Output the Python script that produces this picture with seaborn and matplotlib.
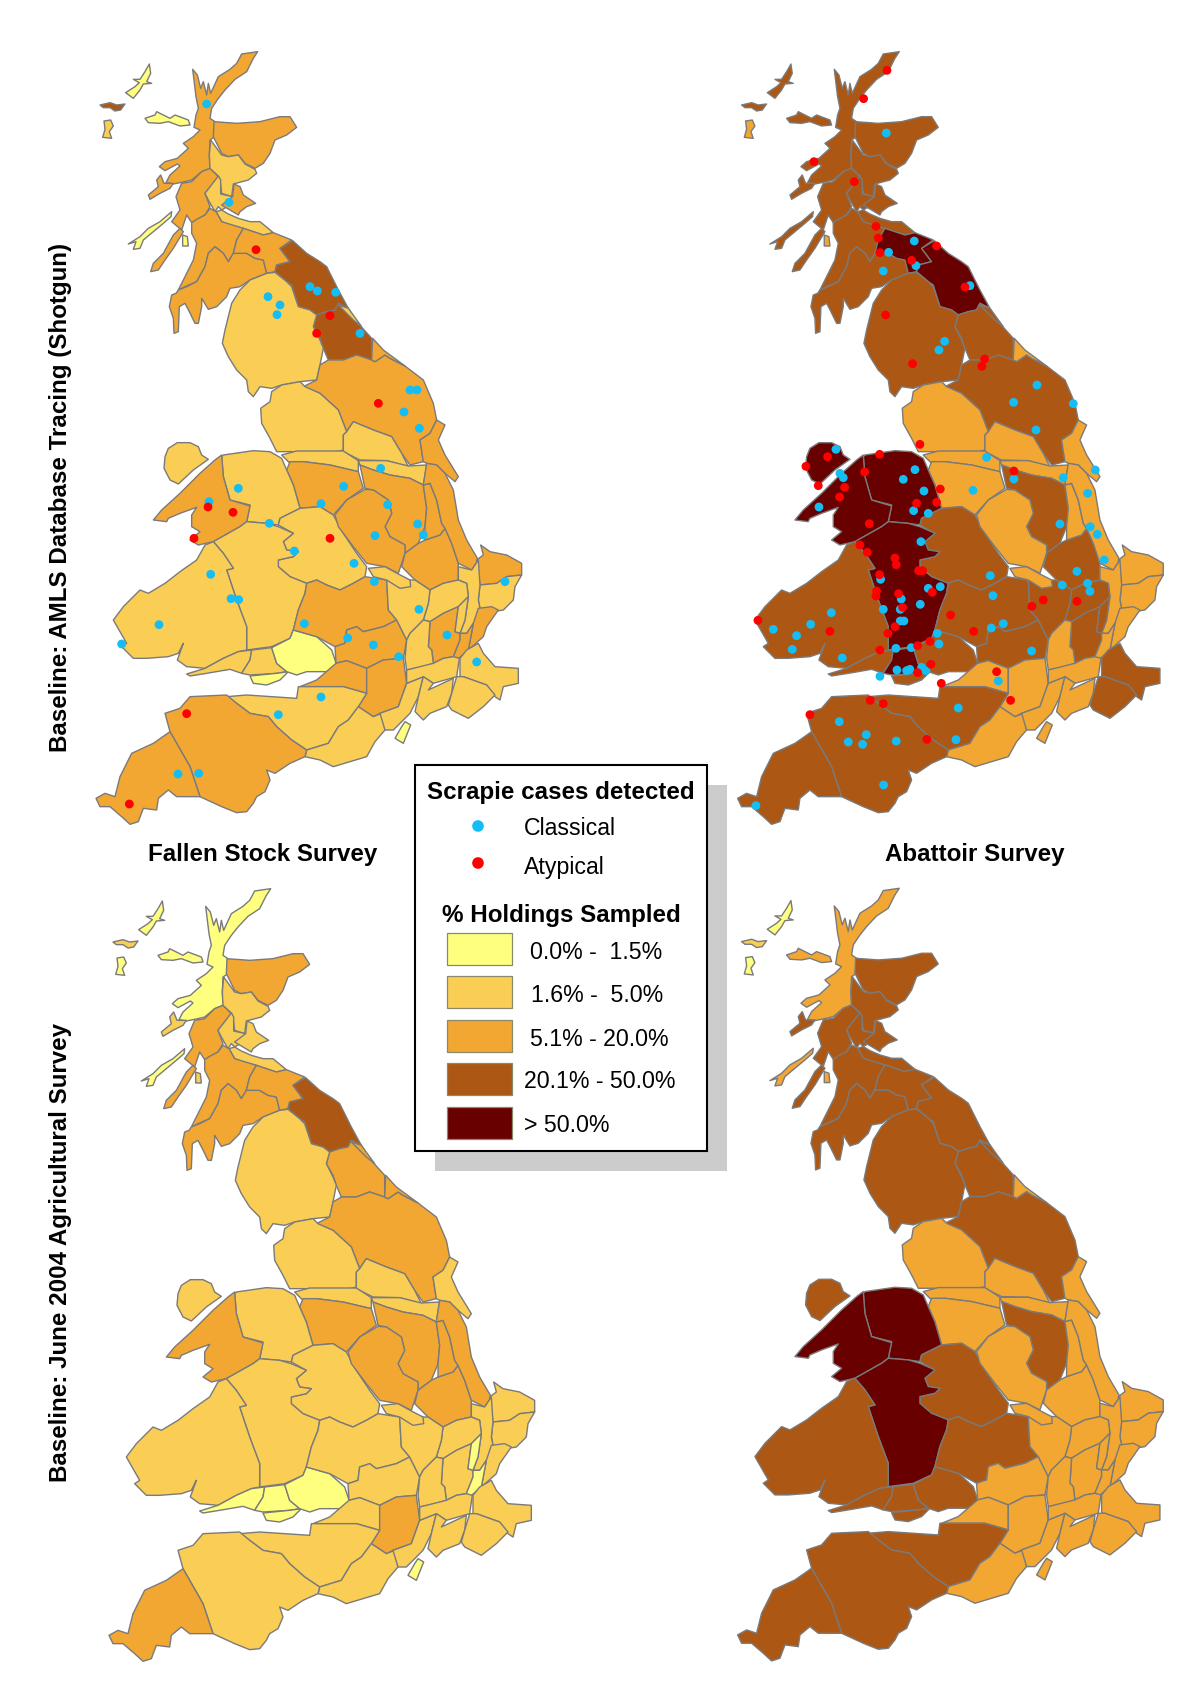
import numpy as np
import pandas as pd
import matplotlib
matplotlib.use("Agg")
import matplotlib.pyplot as plt
from matplotlib.patches import Rectangle
import seaborn as sns

LARGURA, ALTURA = 1200, 1700
SUL = 1140  # the southern outlines were read with y starting here


def sul(pontos):
    """Shift outlines read on the southern crop to the common map frame."""
    return [(x, y + SUL) for x, y in pontos]


# Legend classes
CLASS_LABELS = ["0.0% -  1.5%", "1.6% -  5.0%", "5.1% - 20.0%", "20.1% - 50.0%", "> 50.0%"]
CLASS_COLORS = ["#FFFF7F", "#FACD55", "#F2A733", "#AD5714", "#680000"]
EDGE_COLOR = "#7A7A7A"
CASE_COLORS = {"Classical": "#14BDF4", "Atypical": "#FF0000"}

# Map outlines, in map units
REGIONS = {
    "lewis": [(178, 72), (182, 100), (170, 125), (185, 130), (160, 132), (150, 150), (130, 175), (107, 158), (135, 140), (148, 128), (130, 118), (150, 118), (165, 95)],
    "uist": [(30, 195), (60, 188), (80, 195), (105, 192), (92, 210), (75, 213), (60, 203), (40, 203)],
    "barra": [(42, 243), (62, 240), (70, 258), (58, 275), (65, 295), (38, 292), (45, 268)],
    "highland": [(503, 35), (490, 55), (470, 95), (435, 118), (405, 150), (385, 175), (365, 205), (360, 235), (375, 245), (375, 290), (360, 300), (358, 345), (360, 385), (335, 395), (305, 420), (285, 425), (250, 432), (228, 428), (240, 405), (270, 378), (262, 372), (225, 392), (208, 380), (225, 365), (262, 355), (295, 325), (280, 310), (310, 290), (330, 270), (312, 262), (318, 225), (325, 205), (318, 170), (308, 88), (322, 105), (332, 145), (340, 125), (350, 165), (355, 130), (362, 160), (385, 110), (420, 88), (440, 70), (455, 42)],
    "skye": [(165, 235), (195, 225), (200, 215), (240, 235), (255, 225), (295, 240), (300, 255), (270, 258), (235, 245), (210, 250), (175, 248)],
    "mull": [(212, 405), (222, 430), (250, 430), (240, 445), (210, 460), (180, 478), (175, 465), (205, 440), (200, 420)],
    "islay": [(115, 612), (150, 590), (175, 565), (210, 545), (245, 515), (243, 530), (220, 550), (190, 575), (160, 600), (150, 625), (130, 628), (138, 605)],
    "arran": [(278, 585), (292, 590), (295, 618), (278, 618)],
    "argyll": [(360, 385), (385, 410), (345, 460), (360, 500), (345, 525), (320, 540), (305, 548), (290, 525), (275, 570), (245, 545), (270, 510), (258, 470), (275, 430), (305, 425), (335, 395)],
    "kintyre": [(270, 565), (280, 575), (250, 625), (225, 660), (205, 690), (182, 695), (190, 670), (220, 640), (250, 585)],
    "grampian": [(372, 245), (440, 250), (510, 245), (570, 230), (600, 230), (620, 262), (590, 285), (555, 300), (540, 340), (520, 370), (495, 385), (465, 370), (445, 345), (415, 350), (395, 340), (370, 290)],
    "tayside": [(362, 300), (395, 345), (415, 350), (445, 345), (465, 372), (495, 388), (500, 400), (475, 420), (430, 432), (425, 470), (395, 460), (390, 420), (385, 408), (360, 385), (358, 345)],
    "central": [(385, 408), (392, 420), (392, 462), (428, 470), (420, 495), (395, 510), (385, 500), (375, 515), (355, 480), (345, 460)],
    "fife": [(432, 432), (450, 440), (460, 465), (497, 490), (470, 500), (450, 515), (445, 525), (420, 510), (395, 495), (428, 470)],
    "lothian": [(378, 515), (395, 510), (415, 522), (445, 535), (480, 545), (510, 545), (550, 578), (520, 585), (460, 565), (420, 555), (395, 545)],
    "ayrshire": [(345, 525), (360, 505), (378, 515), (395, 545), (460, 565), (440, 600), (430, 640), (415, 665), (400, 640), (375, 620), (355, 640), (345, 680), (320, 725), (285, 740), (265, 750), (285, 710), (310, 660), (320, 610), (305, 580), (305, 548), (320, 538)],
    "dumfries": [(375, 620), (400, 640), (415, 665), (430, 640), (470, 640), (495, 655), (520, 660), (530, 700), (480, 720), (450, 740), (420, 745), (410, 770), (380, 800), (355, 808), (335, 775), (335, 800), (325, 850), (315, 850), (298, 815), (285, 790), (268, 800), (265, 875), (252, 880), (250, 835), (238, 800), (245, 765), (258, 760), (265, 750), (290, 740), (320, 725), (345, 680), (355, 640)],
    "borders": [(460, 565), (520, 585), (550, 578), (605, 600), (570, 625), (600, 665), (560, 675), (555, 695), (530, 700), (520, 660), (495, 655), (470, 640), (430, 640), (440, 600)],
    "northumberland": [(608, 602), (650, 640), (690, 665), (710, 680), (730, 720), (745, 750), (775, 805), (745, 790), (735, 810), (710, 815), (680, 825), (660, 810), (625, 800), (605, 735), (590, 725), (555, 695), (560, 675), (600, 665), (570, 625)],
    "durham": [(680, 825), (710, 815), (735, 810), (745, 790), (775, 805), (800, 845), (845, 895), (845, 960), (800, 945), (760, 960), (715, 960), (700, 925), (690, 895), (670, 860)],
    "durham_coast": [(745, 795), (775, 805), (815, 860), (790, 840)],
    "cumbria": [(555, 697), (590, 725), (605, 740), (625, 800), (660, 810), (680, 825), (670, 860), (690, 900), (700, 925), (690, 975), (680, 1020), (630, 1025), (575, 1035), (545, 1045), (510, 1040), (490, 1070), (475, 1055), (470, 1020), (440, 990), (415, 950), (397, 910), (405, 870), (425, 790), (450, 750), (480, 720), (530, 700)],
    "north_yorks": [(640, 1040), (680, 1020), (690, 975), (715, 960), (760, 960), (800, 945), (845, 960), (855, 965), (885, 945), (900, 955), (945, 978), (1000, 1020), (1030, 1090), (1040, 1140), (1020, 1180), (990, 1200), (1000, 1265), (960, 1275), (935, 1240), (905, 1190), (850, 1170), (790, 1145), (770, 1175), (745, 1110), (690, 1060)],
    "cleveland": [(848, 895), (880, 930), (945, 978), (900, 955), (885, 945), (855, 965), (845, 960)],
    "lancashire": [(575, 1035), (630, 1025), (645, 1040), (690, 1060), (745, 1110), (770, 1175), (760, 1185), (760, 1230), (740, 1235), (660, 1235), (560, 1235), (540, 1195), (515, 1150), (512, 1105), (540, 1085), (545, 1055)],
    "west_yorks": [(770, 1175), (790, 1145), (850, 1170), (905, 1190), (935, 1240), (955, 1280), (890, 1262), (810, 1260), (760, 1235), (760, 1185)],
    "mersey": sul([(575, 105), (620, 93), (760, 93), (805, 122), (805, 155), (720, 135), (640, 125), (600, 130)]),
    "south_yorks": sul([(805, 122), (890, 122), (955, 138), (1010, 135), (1000, 195), (960, 175), (900, 165), (850, 150), (810, 135)]),
    "east_riding": sul([(1040, 0), (1065, 15), (1045, 60), (1065, 105), (1105, 170), (1095, 185), (1065, 160), (1040, 135), (1010, 130), (1000, 125), (990, 60), (1020, 40)]),
    "cheshire": sul([(600, 125), (640, 125), (720, 135), (805, 155), (820, 205), (770, 240), (730, 285), (690, 260), (630, 265), (610, 195), (590, 150)]),
    "clwyd": sul([(400, 105), (490, 92), (540, 95), (575, 115), (590, 150), (610, 195), (630, 265), (570, 295), (565, 315), (530, 310), (470, 305), (480, 255), (420, 240), (400, 170), (395, 110)]),
    "gwynedd": sul([(395, 105), (400, 170), (420, 240), (480, 258), (470, 305), (450, 320), (370, 365), (325, 375), (300, 360), (330, 335), (305, 320), (305, 285), (320, 262), (270, 280), (235, 295), (230, 305), (190, 300), (215, 270), (270, 220), (330, 160), (375, 120)]),
    "anglesey": sul([(262, 68), (300, 68), (325, 80), (335, 105), (355, 118), (310, 150), (265, 192), (240, 180), (222, 145), (225, 110), (235, 85)]),
    "shropshire": sul([(630, 265), (690, 260), (730, 285), (760, 340), (800, 400), (830, 440), (825, 470), (790, 490), (750, 510), (710, 495), (680, 480), (650, 490), (600, 470), (565, 440), (565, 420), (610, 410), (625, 395), (590, 390), (580, 365), (610, 340), (565, 315), (570, 295)]),
    "powys": sul([(370, 365), (450, 320), (470, 305), (530, 310), (565, 320), (610, 340), (580, 365), (590, 390), (625, 395), (610, 410), (565, 420), (565, 440), (600, 470), (650, 490), (645, 520), (625, 570), (610, 630), (600, 655), (545, 680), (470, 690), (470, 620), (440, 540), (410, 450), (430, 445), (400, 400)]),
    "dyfed": sul([(345, 375), (370, 365), (400, 400), (430, 445), (410, 450), (440, 540), (470, 620), (470, 690), (445, 695), (400, 715), (345, 745), (290, 740), (262, 720), (280, 670), (265, 700), (235, 710), (170, 715), (130, 715), (95, 680), (110, 670), (70, 600), (100, 560), (150, 510), (175, 520), (225, 490), (270, 455), (320, 420)]),
    "glam_west": sul([(290, 762), (345, 745), (400, 715), (445, 695), (485, 690), (480, 720), (455, 760), (420, 748), (350, 760), (300, 768)]),
    "glam_mid": sul([(485, 690), (545, 683), (560, 730), (590, 755), (560, 760), (480, 765), (455, 760), (480, 720)]),
    "glam_south": sul([(480, 768), (560, 760), (595, 755), (570, 780), (530, 795), (490, 790)]),
    "gwent": sul([(610, 630), (680, 650), (725, 690), (735, 720), (740, 735), (710, 755), (650, 755), (620, 765), (590, 755), (560, 730), (545, 683), (600, 655)]),
    "worcester": sul([(650, 490), (680, 480), (710, 495), (750, 510), (790, 490), (825, 470), (890, 480), (895, 570), (920, 600), (880, 620), (820, 635), (800, 620), (770, 630), (765, 670), (735, 680), (680, 650), (610, 630), (625, 570), (645, 520)]),
    "oxford": sul([(735, 680), (765, 670), (770, 630), (800, 620), (820, 635), (880, 620), (920, 600), (950, 660), (940, 715), (880, 720), (830, 745), (770, 722), (738, 730)]),
    "avon": sul([(630, 800), (680, 780), (738, 730), (770, 722), (830, 745), (830, 820), (760, 800), (690, 800)]),
    "wiltshire": sul([(830, 745), (880, 720), (940, 715), (950, 790), (925, 860), (870, 880), (850, 890), (805, 860), (830, 820)]),
    "somerset": sul([(410, 830), (470, 825), (620, 835), (625, 800), (690, 800), (760, 800), (830, 820), (805, 860), (775, 900), (745, 920), (715, 970), (650, 990), (605, 960), (560, 920), (535, 890), (480, 880), (440, 850)]),
    "dorset": sul([(650, 990), (715, 970), (745, 920), (775, 900), (805, 860), (850, 890), (875, 880), (885, 930), (855, 965), (830, 1010), (780, 1025), (730, 1040), (690, 1020), (645, 1010)]),
    "hampshire": sul([(870, 880), (925, 860), (950, 790), (1000, 770), (985, 830), (960, 880), (910, 930), (885, 930)]),
    "wight": sul([(945, 905), (962, 915), (940, 970), (915, 955), (935, 920)]),
    "devon": sul([(300, 830), (410, 825), (440, 850), (480, 880), (535, 890), (560, 920), (605, 960), (650, 990), (645, 1010), (600, 1030), (555, 1060), (530, 1050), (540, 1080), (525, 1115), (500, 1130), (490, 1150), (470, 1175), (440, 1178), (395, 1160), (330, 1130), (320, 1100), (300, 1040), (260, 970), (240, 935), (225, 880), (270, 865)]),
    "cornwall": sul([(240, 935), (260, 970), (300, 1040), (320, 1100), (330, 1130), (300, 1130), (260, 1130), (235, 1110), (205, 1135), (200, 1170), (160, 1165), (145, 1205), (120, 1213), (95, 1190), (60, 1160), (30, 1160), (18, 1135), (45, 1120), (75, 1130), (90, 1070), (125, 1000), (190, 970)]),
    "derby": sul([(810, 135), (850, 150), (900, 165), (960, 175), (1000, 195), (1010, 265), (1005, 320), (985, 370), (945, 400), (945, 375), (900, 350), (885, 320), (905, 280), (895, 240), (850, 210), (825, 205)]),
    "notts": sul([(825, 208), (850, 210), (895, 240), (905, 280), (885, 320), (900, 350), (945, 375), (945, 400), (925, 460), (885, 440), (830, 430), (790, 380), (745, 320), (735, 285), (770, 240)]),
    "leicester": sul([(1065, 325), (1085, 370), (1105, 430), (1105, 480), (1060, 490), (1020, 510), (975, 480), (935, 440), (945, 400), (985, 370), (1005, 360), (1050, 345)]),
    "lincs_west": sul([(1000, 195), (1020, 190), (1040, 240), (1055, 310), (1065, 325), (1050, 345), (1005, 360), (1005, 320), (1010, 265)]),
    "lincs_east": sul([(1010, 130), (1040, 135), (1065, 160), (1090, 210), (1105, 300), (1130, 360), (1165, 420), (1145, 450), (1105, 430), (1085, 370), (1065, 325), (1055, 310), (1040, 240), (1020, 190), (1000, 195)]),
    "norfolk": sul([(1172, 375), (1200, 395), (1250, 405), (1295, 430), (1295, 465), (1250, 470), (1220, 490), (1170, 495), (1160, 420), (1180, 405)]),
    "suffolk": sul([(1170, 495), (1220, 490), (1250, 470), (1295, 465), (1275, 500), (1270, 540), (1240, 570), (1210, 575), (1175, 590), (1165, 540)]),
    "cambridge": sul([(1105, 440), (1145, 450), (1165, 420), (1170, 495), (1165, 540), (1175, 590), (1150, 610), (1130, 640), (1110, 640), (1125, 600), (1135, 530), (1130, 490), (1105, 480)]),
    "northants": sul([(1020, 510), (1060, 490), (1105, 480), (1130, 490), (1135, 530), (1105, 560), (1060, 580), (1020, 605), (1000, 600), (1015, 550)]),
    "warwick": sul([(890, 480), (975, 480), (1020, 510), (1015, 550), (1000, 600), (960, 640), (950, 660), (920, 600), (895, 570)]),
    "peak_sliver": sul([(835, 445), (885, 440), (925, 462), (960, 480), (962, 500), (930, 505), (890, 480), (850, 470)]),
    "beds": sul([(1020, 605), (1060, 580), (1105, 560), (1095, 635), (1110, 640), (1110, 660), (1090, 710), (1060, 715), (1030, 730), (1025, 690), (1015, 680)]),
    "herts": sul([(1105, 560), (1135, 530), (1125, 600), (1110, 640), (1095, 635)]),
    "essex_east": sul([(1150, 610), (1165, 565), (1205, 560), (1225, 570), (1190, 620), (1180, 650), (1135, 690)]),
    "essex_west": sul([(1110, 640), (1130, 640), (1150, 610), (1135, 690), (1100, 720), (1090, 710), (1110, 660)]),
    "berks": sul([(960, 640), (1000, 600), (1020, 605), (1015, 680), (1025, 690), (1030, 730), (1000, 740), (950, 750), (945, 715), (950, 660)]),
    "surrey": sul([(950, 750), (1030, 730), (1060, 715), (1090, 710), (1108, 715), (1100, 770), (1030, 790), (1000, 770), (950, 790)]),
    "sussex_west": sul([(985, 830), (1000, 770), (1030, 790), (1015, 810), (1090, 775), (1085, 820), (1070, 860), (1020, 880), (1000, 900), (975, 875)]),
    "kent": sul([(1110, 715), (1130, 690), (1165, 670), (1180, 700), (1215, 740), (1285, 745), (1285, 790), (1240, 800), (1230, 840), (1215, 830), (1190, 795), (1120, 770), (1110, 770)]),
    "sussex_east": sul([(1100, 770), (1120, 770), (1190, 795), (1215, 825), (1180, 860), (1135, 895), (1085, 870), (1075, 855), (1085, 820)]),
}

# Class of each region on: top left, top right, bottom left, bottom right
REGION_CLASSES = {
    "lewis": (0, 3, 0, 0), "uist": (3, 3, 1, 1), "barra": (1, 2, 0, 0), "highland": (2, 3, 0, 2),
    "skye": (0, 3, 0, 2), "mull": (2, 3, 1, 3), "islay": (0, 3, 0, 2), "arran": (0, 2, 1, 2),
    "argyll": (2, 3, 2, 3), "kintyre": (2, 3, 2, 3), "grampian": (2, 3, 2, 3), "tayside": (1, 3, 1, 3),
    "central": (1, 3, 1, 3), "fife": (2, 3, 1, 3), "lothian": (1, 3, 1, 3), "ayrshire": (2, 3, 2, 3),
    "dumfries": (2, 3, 2, 3), "borders": (2, 4, 2, 3), "northumberland": (3, 4, 3, 3), "durham": (3, 3, 2, 3),
    "durham_coast": (1, 3, 2, 3), "cumbria": (1, 3, 1, 3), "north_yorks": (2, 3, 2, 3), "cleveland": (2, 2, 2, 2),
    "lancashire": (1, 2, 1, 2), "west_yorks": (1, 2, 1, 2), "mersey": (1, 2, 1, 2), "south_yorks": (1, 2, 1, 2),
    "east_riding": (2, 2, 1, 2), "cheshire": (2, 2, 2, 2), "clwyd": (1, 4, 1, 4), "gwynedd": (2, 4, 2, 4),
    "anglesey": (1, 4, 1, 3), "shropshire": (1, 3, 1, 3), "powys": (1, 4, 1, 4), "dyfed": (1, 3, 1, 3),
    "glam_west": (1, 3, 0, 3), "glam_mid": (1, 4, 0, 3), "glam_south": (0, 3, 0, 3), "gwent": (0, 3, 0, 3),
    "worcester": (2, 3, 1, 3), "oxford": (2, 3, 1, 2), "avon": (2, 2, 1, 2), "wiltshire": (2, 2, 2, 2),
    "somerset": (1, 3, 1, 3), "dorset": (1, 2, 1, 2), "hampshire": (1, 2, 1, 2), "wight": (0, 2, 0, 2),
    "devon": (2, 3, 1, 3), "cornwall": (2, 3, 2, 3), "derby": (2, 3, 2, 3), "notts": (2, 2, 2, 2),
    "leicester": (2, 3, 2, 2), "lincs_west": (2, 2, 2, 2), "lincs_east": (2, 2, 2, 2), "norfolk": (2, 2, 1, 2),
    "suffolk": (1, 2, 1, 2), "cambridge": (1, 2, 1, 2), "northants": (1, 3, 1, 2), "warwick": (1, 3, 1, 2),
    "peak_sliver": (1, 2, 1, 2), "beds": (2, 3, 1, 2), "herts": (1, 3, 0, 2), "essex_east": (2, 2, 1, 2),
    "essex_west": (2, 2, 0, 2), "berks": (1, 2, 1, 2), "surrey": (1, 2, 1, 2), "sussex_west": (1, 2, 1, 2),
    "kent": (1, 3, 1, 2), "sussex_east": (1, 3, 1, 2),
}

# Scrapie cases, top left map (Fallen Stock Survey)
FALLEN_CLASSICAL_X = [350, 417, 660, 682, 737, 534, 570, 561, 810, 960, 981, 942, 988, 872, 445, 357, 761, 693, 893, 983, 855, 1000, 538, 613, 792, 362, 853, 423, 446, 987, 207, 643, 1071, 95, 773, 850, 926, 1160, 693, 565, 264, 326, 1245]
FALLEN_CLASSICAL_Y = [192, 487, 740, 753, 757, 770, 795, 824, 880, 1050, 1050, 1116, 1165, 1285, 1345, 1385, 1339, 1391, 1394, 1452, 1487, 1485, 1450, 1533, 1570, 1603, 1625, 1676, 1679, 1708, 1754, 1751, 1785, 1812, 1794, 1815, 1850, 1866, 1971, 2024, 2202, 2200, 1625]
FALLEN_ATYPICAL_X = [498, 720, 680, 865, 354, 429, 720, 312, 290, 118]
FALLEN_ATYPICAL_Y = [629, 827, 880, 1090, 1401, 1417, 1495, 1495, 2021, 2292]

# Scrapie cases, top right map (Abattoir Survey)
ABATTOIR_CLASSICAL_X = [464, 548, 471, 553, 715, 455, 639, 622, 916, 846, 1025, 913, 313, 765, 550, 515, 325, 335, 847, 995, 1091, 1068, 577, 724, 262, 546, 590, 985, 1076, 1097, 568, 1118, 1036, 776, 447, 992, 1068, 1075, 590, 626, 784, 509, 566, 299, 455, 506, 506, 517, 237, 125, 815, 779, 195, 617, 622, 182, 493, 539, 900, 332, 496, 525, 535, 570, 583, 445, 800, 680, 323, 404, 350, 393, 494, 673, 456, 73]
ABATTOIR_CLASSICAL_Y = [279, 603, 637, 677, 737, 693, 904, 930, 1035, 1087, 1091, 1170, 1228, 1252, 1289, 1318, 1300, 1313, 1317, 1313, 1290, 1360, 1353, 1351, 1401, 1412, 1420, 1452, 1460, 1483, 1505, 1560, 1594, 1607, 1618, 1635, 1630, 1654, 1645, 1640, 1667, 1677, 1693, 1718, 1708, 1708, 1743, 1743, 1753, 1768, 1751, 1764, 1787, 1780, 1812, 1828, 1825, 1823, 1833, 1854, 1890, 1892, 1888, 1882, 1892, 1909, 1923, 2004, 2045, 2084, 2106, 2113, 2103, 2099, 2235, 2297]
ABATTOIR_ATYPICAL_X = [466, 396, 247, 368, 433, 440, 445, 615, 540, 700, 462, 759, 751, 543, 565, 288, 223, 444, 399, 847, 260, 339, 324, 626, 555, 615, 413, 385, 407, 490, 494, 561, 573, 444, 435, 433, 602, 501, 935, 901, 1036, 513, 79, 657, 295, 726, 490, 469, 595, 445, 558, 598, 558, 795, 629, 837, 416, 455, 235, 586]
ABATTOIR_ATYPICAL_Y = [91, 176, 365, 425, 559, 594, 638, 618, 661, 741, 825, 957, 979, 971, 1213, 1250, 1279, 1243, 1296, 1293, 1337, 1342, 1371, 1347, 1390, 1387, 1451, 1515, 1537, 1554, 1574, 1592, 1592, 1604, 1653, 1668, 1657, 1661, 1680, 1699, 1684, 1702, 1741, 1725, 1774, 1774, 1760, 1780, 1804, 1830, 1817, 1873, 1898, 1895, 1930, 1981, 1981, 1991, 2024, 2098]

# Legend and panel titles
LEGEND_CASES_TITLE = "Scrapie cases detected"
LEGEND_CLASS_TITLE = "% Holdings Sampled"
TITLE_LEFT = "Fallen Stock Survey"
TITLE_RIGHT = "Abattoir Survey"
BASELINE_TOP = "Baseline: AMLS Database Tracing (Shotgun)"
BASELINE_BOTTOM = "Baseline: June 2004 Agricultural Survey"


def criar_eixo(fig, esquerda, topo, largura, altura):
    """Create an axes placed by its pixel box."""
    return fig.add_axes([esquerda / LARGURA, 1 - (topo + altura) / ALTURA, largura / LARGURA, altura / ALTURA])


def casos_df(classical_x, classical_y, atypical_x, atypical_y):
    """Build the long table that scatterplot needs."""
    return pd.DataFrame({
        "x": classical_x + atypical_x,
        "y": classical_y + atypical_y,
        "type": ["Classical"] * len(classical_x) + ["Atypical"] * len(atypical_x),
    })


def desenhar_mapa(fig, esquerda, topo, indice, casos=None):
    """Draw one map panel with the class colours of the given column."""
    ax = criar_eixo(fig, esquerda, topo, 460, 2420 / 3)
    for nome, pontos in REGIONS.items():
        xs, ys = zip(*pontos)
        ax.fill(xs, ys, facecolor=CLASS_COLORS[REGION_CLASSES[nome][indice]],
                edgecolor=EDGE_COLOR, linewidth=1.0, joinstyle="round")
    if casos is not None:
        sns.scatterplot(data=casos, x="x", y="y", hue="type", palette=CASE_COLORS, s=40,
                        edgecolor="none", legend=False, zorder=5, ax=ax)
    ax.set_xlim(-30, 1350)
    ax.set_ylim(2420, 0)
    ax.axis("off")
    return ax


def desenhar_legenda(fig):
    """Draw the central legend box, its shadow and the outer titles."""
    ax = criar_eixo(fig, 0, 0, LARGURA, ALTURA)
    ax.set_xlim(0, LARGURA)
    ax.set_ylim(ALTURA, 0)
    ax.axis("off")
    ax.add_patch(Rectangle((435, 785), 292, 386, facecolor="#CCCCCC", edgecolor="none"))
    ax.add_patch(Rectangle((415, 765), 292, 386, facecolor="white", edgecolor="black", linewidth=1.5))
    ax.text(561, 792, LEGEND_CASES_TITLE, fontsize=17.4, fontweight="bold", ha="center", va="center")
    ax.text(561, 915, LEGEND_CLASS_TITLE, fontsize=17.4, fontweight="bold", ha="center", va="center")
    marcas = pd.DataFrame({"x": [478, 478], "y": [826, 863], "type": ["Classical", "Atypical"]})
    sns.scatterplot(data=marcas, x="x", y="y", hue="type", palette=CASE_COLORS, s=70,
                    edgecolor="none", legend=False, ax=ax)
    ax.set_xlim(0, LARGURA)
    ax.set_ylim(ALTURA, 0)
    ax.axis("off")
    ax.text(524, 828, "Classical", fontsize=16.7, ha="left", va="center")
    ax.text(524, 867, "Atypical", fontsize=16.7, ha="left", va="center")
    topos = [933, 976, 1020, 1063, 1107]
    esquerdas = [530, 531, 530, 524, 524]
    for topo, esquerda, cor, rotulo in zip(topos, esquerdas, CLASS_COLORS, CLASS_LABELS):
        ax.add_patch(Rectangle((447, topo), 65, 32, facecolor=cor, edgecolor="#8A8A6A", linewidth=0.9))
        ax.text(esquerda, topo + 19, rotulo, fontsize=16.7, ha="left", va="center")
    ax.text(263, 854, TITLE_LEFT, fontsize=17.4, fontweight="bold", ha="center", va="center")
    ax.text(975, 854, TITLE_RIGHT, fontsize=17.4, fontweight="bold", ha="center", va="center")
    ax.text(61, 497, BASELINE_TOP, fontsize=17.4, fontweight="bold", rotation=90, ha="center", va="center")
    ax.text(61, 1252, BASELINE_BOTTOM, fontsize=17.4, fontweight="bold", rotation=90, ha="center", va="center")


def main():
    sns.set_theme(style="white")
    plt.rcParams["font.family"] = ["Liberation Sans", "DejaVu Sans"]
    plt.rcParams["text.color"] = "black"
    fig = plt.figure(figsize=(LARGURA / 100, ALTURA / 100), dpi=100, facecolor="white")
    casos_fallen = casos_df(FALLEN_CLASSICAL_X, FALLEN_CLASSICAL_Y, FALLEN_ATYPICAL_X, FALLEN_ATYPICAL_Y)
    casos_abattoir = casos_df(ABATTOIR_CLASSICAL_X, ABATTOIR_CLASSICAL_Y, ABATTOIR_ATYPICAL_X, ABATTOIR_ATYPICAL_Y)
    desenhar_mapa(fig, 80, 40, 0, casos_fallen)
    desenhar_mapa(fig, 721.6, 40, 1, casos_abattoir)
    desenhar_mapa(fig, 93, 877, 2)
    desenhar_mapa(fig, 721.6, 876.6, 3)
    desenhar_legenda(fig)
    fig.savefig("out.png", dpi=100, facecolor="white")


main()
